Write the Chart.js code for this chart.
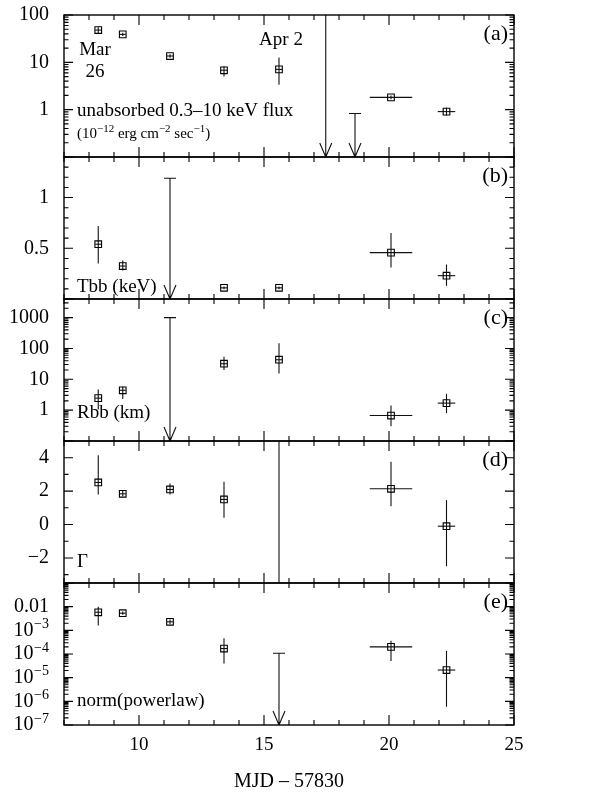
<!DOCTYPE html>
<html><head><meta charset="utf-8">
<script src="https://cdn.jsdelivr.net/npm/chart.js@4.4.1/dist/chart.umd.min.js"></script>
<style>html,body{margin:0;padding:0;background:#fff;}#wrap{position:relative;width:611px;height:801px;}</style>
</head><body><div id="wrap"><canvas id="c" width="611" height="801"></canvas></div>
<script>
// ---- data (MJD - 57830) ----
const obsT    = [8.37, 9.35, 11.24, 13.4, 15.6, 17.47, 18.64, 20.08, 22.3];
const obsTErr = [0.12, 0.12, 0.12, 0.12, 0.12, 0, 0, 0.85, 0.35];

const fluxVal = [48, 39, 13.6, 6.8, 7.1, null, null, 1.82, 0.91];
const fluxLo  = [41, 36, 12.5, 5.0, 3.35, null, null, 1.65, 0.75];
const fluxHi  = [55, 42, 14.8, 8.3, 12.6, null, null, 2.0, 1.1];
const fluxUL  = [null, null, null, null, null, 1000, 0.83, null, null];

const tbbVal = [0.54, 0.325, null, 0.11, 0.11, null, null, 0.457, 0.23];
const tbbLo  = [0.35, 0.28, null, 0.097, 0.097, null, null, 0.31, 0.13];
const tbbHi  = [0.72, 0.38, null, 0.123, 0.123, null, null, 0.65, 0.34];
const tbbUL  = [null, null, 1.19, null, null, null, null, null, null];

const rbbVal = [2.45, 4.4, null, 32, 43, null, null, 0.67, 1.69];
const rbbLo  = [1.05, 2.3, null, 20, 15.5, null, null, 0.30, 0.8];
const rbbHi  = [4.7, 5.7, null, 54, 147, null, null, 1.42, 3.4];
const rbbUL  = [null, null, 1000, null, null, null, null, null, null];

const gammaVal = [2.52, 1.84, 2.1, 1.5, null, null, null, 2.14, -0.1];
const gammaLo  = [1.8, 1.7, 1.8, 0.4, -100, null, null, 1.1, -2.5];
const gammaHi  = [4.14, 2.0, 2.45, 2.56, 100, null, null, 3.76, 1.46];

const normVal = [5.8e-3, 5.3e-3, 2.3e-3, 1.7e-4, null, null, null, 2.0e-4, 2.1e-5];
const normLo  = [1.6e-3, 4.5e-3, 1.8e-3, 4e-5, null, null, null, 5e-5, 5.9e-7];
const normHi  = [0.01, 6.2e-3, 2.9e-3, 4.6e-4, null, null, null, 3.6e-4, 1.35e-4];
const normUL  = [null, null, null, null, 1.07e-4, null, null, null, null];

// tick labels
const xTickLabels = [10, 15, 20, 25];
const fluxTicks  = [1, 10, 100];
const tbbTicks   = [0.5, 1];
const rbbTicks   = [1, 10, 100, 1000];
const gammaTicks = [-2, 0, 2, 4];
const normTicks  = [1e-7, 1e-6, 1e-5, 1e-4, 1e-3, 0.01];

const FONT = "'Liberation Serif','Times New Roman',serif";
Chart.defaults.font.family = FONT;
Chart.defaults.color = '#000';

const panels = [
  {id:'yA', type:'logarithmic', min:0.1, max:100, val:fluxVal, lo:fluxLo, hi:fluxHi, ul:fluxUL, ticks:fluxTicks, w:5, tag:'(a)'},
  {id:'yB', type:'linear', min:0, max:1.4, val:tbbVal, lo:tbbLo, hi:tbbHi, ul:tbbUL, ticks:tbbTicks, w:4, tag:'(b)', step:0.1, major:0.5},
  {id:'yC', type:'logarithmic', min:0.1, max:4000, val:rbbVal, lo:rbbLo, hi:rbbHi, ul:rbbUL, ticks:rbbTicks, w:3, tag:'(c)'},
  {id:'yD', type:'linear', min:-3.5, max:5, val:gammaVal, lo:gammaLo, hi:gammaHi, ul:null, ticks:gammaTicks, w:2, tag:'(d)', step:1, major:2},
  {id:'yE', type:'logarithmic', min:1e-7, max:0.1, val:normVal, lo:normLo, hi:normHi, ul:normUL, ticks:normTicks, w:1, tag:'(e)', custom:true}
];

const TICK_FS = 20, LABEL_PAD = 15;

function fmt(p, v) {
  if (p.custom) return '';
  if (v < 0) return '\u2212' + Math.abs(v);
  return String(v);
}

const scales = {
  x: {
    type:'linear', min:7, max:25, position:'bottom',
    grid:{display:false, drawTicks:false}, border:{display:false},
    ticks:{font:{size:19}, padding:9, maxRotation:0, autoSkip:false, color:'#000', callback:v=>String(v)},
    afterBuildTicks(s){ s.ticks = xTickLabels.map(v=>({value:v})); },
    afterFit(s){ s.height = 76; },
    title:{display:true, text:'MJD \u2013 57830', font:{size:20}, color:'#000', padding:{top:0,bottom:7}}
  }
};
panels.forEach(p => {
  scales[p.id] = {
    type:p.type, min:p.min, max:p.max, position:'left', stack:'panels', stackWeight:1, weight:p.w, offset:false,
    grid:{display:false, drawTicks:false}, border:{display:false},
    ticks:{font:{size:TICK_FS}, padding:LABEL_PAD, autoSkip:false, color:'#000', callback:(v)=>fmt(p, v)},
    afterBuildTicks(s){ s.ticks = p.ticks.map(v=>({value:v})); },
    afterFit(s){ s.width = 64; s.paddingTop = 0; s.paddingBottom = 0; }
  };
});

function pts(vals){ const out=[]; obsT.forEach((t,i)=>{ if(vals[i]!=null) out.push({x:t,y:vals[i]}); }); return out; }

const datasets = panels.map(p => ({
  type:'scatter', data:pts(p.val), yAxisID:p.id, xAxisID:'x',
  pointStyle:'rect', pointRadius:4.7, pointHoverRadius:4.7,
  borderColor:'#000', backgroundColor:'rgba(0,0,0,0)', pointBorderWidth:1.1, showLine:false
}));

function supText(ctx, parts, x, y, big, small, rise) {
  let cx = x;
  parts.forEach(([t, sup]) => {
    ctx.font = (sup ? small : big) + 'px ' + FONT;
    ctx.fillText(t, cx, sup ? y - rise : y);
    cx += ctx.measureText(t).width;
  });
}

const drawPlugin = {
  id:'panelsDraw',
  beforeDatasetsDraw(chart){
    const ctx = chart.ctx, xs = chart.scales.x, ca = chart.chartArea;
    panels.forEach(p => {
      const ys = chart.scales[p.id];
      ctx.save();
      ctx.beginPath(); ctx.rect(ca.left, ys.top, ca.right-ca.left, ys.bottom-ys.top); ctx.clip();
      ctx.strokeStyle = '#111'; ctx.lineWidth = 1.1; ctx.lineCap = 'butt';
      obsT.forEach((t,i) => {
        const px = xs.getPixelForValue(t);
        if (p.lo[i] != null) {
          ctx.beginPath();
          ctx.moveTo(px, ys.getPixelForValue(p.lo[i]));
          ctx.lineTo(px, ys.getPixelForValue(p.hi[i]));
          ctx.stroke();
        }
        if (p.val[i] != null && obsTErr[i] > 0) {
          const py = ys.getPixelForValue(p.val[i]);
          ctx.beginPath();
          ctx.moveTo(xs.getPixelForValue(t - obsTErr[i]), py);
          ctx.lineTo(xs.getPixelForValue(t + obsTErr[i]), py);
          ctx.stroke();
        }
        if (p.ul && p.ul[i] != null) {
          const cy = ys.getPixelForValue(p.ul[i]);
          const by = ys.bottom;
          ctx.beginPath();
          ctx.moveTo(px, cy); ctx.lineTo(px, by);
          ctx.moveTo(px - 6, cy); ctx.lineTo(px + 6, cy);
          ctx.moveTo(px - 6, by - 14); ctx.lineTo(px, by); ctx.lineTo(px + 6, by - 14);
          ctx.stroke();
        }
      });
      ctx.restore();
    });
  },
  afterDraw(chart){
    const ctx = chart.ctx, xs = chart.scales.x, ca = chart.chartArea;
    ctx.save();
    ctx.strokeStyle = '#000'; ctx.fillStyle = '#000';
    panels.forEach(p => {
      const ys = chart.scales[p.id];
      ctx.lineWidth = 1.4;
      ctx.strokeRect(ca.left, ys.top, ca.right - ca.left, ys.bottom - ys.top);
      ctx.lineWidth = 1.1;
      ctx.beginPath();
      for (let v = Math.ceil(xs.min); v <= xs.max; v++) {
        const px = xs.getPixelForValue(v);
        const len = (v % 5 === 0) ? 10 : 5;
        ctx.moveTo(px, ys.top); ctx.lineTo(px, ys.top + len);
        ctx.moveTo(px, ys.bottom); ctx.lineTo(px, ys.bottom - len);
      }
      const yt = [];
      if (p.type === 'linear') {
        for (let k = Math.ceil(p.min / p.step - 1e-9); k * p.step <= p.max + 1e-9; k++) {
          const v = k * p.step;
          const r = v / p.major;
          yt.push([v, Math.abs(r - Math.round(r)) < 1e-6]);
        }
      } else {
        for (let d = Math.floor(Math.log10(p.min)); d <= Math.ceil(Math.log10(p.max)); d++) {
          for (let m = 1; m <= 9; m++) {
            const v = m * Math.pow(10, d);
            if (v >= p.min * 0.999 && v <= p.max * 1.001) yt.push([v, m === 1]);
          }
        }
      }
      yt.forEach(([v, major]) => {
        const py = ys.getPixelForValue(v);
        const len = major ? 9 : 4.5;
        ctx.moveTo(ca.left, py); ctx.lineTo(ca.left + len, py);
        ctx.moveTo(ca.right, py); ctx.lineTo(ca.right - len, py);
      });
      ctx.stroke();
      ctx.font = '22px ' + FONT; ctx.textAlign = 'right'; ctx.textBaseline = 'middle';
      ctx.fillText(p.tag, ca.right - 6, ys.top + 19);
      if (p.custom) {
        ctx.textBaseline = 'middle';
        p.ticks.forEach(v => {
          const py = ys.getPixelForValue(v);
          const rx = ca.left - LABEL_PAD;
          if (v >= 0.01) {
            ctx.font = TICK_FS + 'px ' + FONT; ctx.textAlign = 'right';
            ctx.fillText(String(v), rx, py);
          } else {
            const e = Math.round(Math.log10(v));
            const sup = '\u2212' + Math.abs(e);
            ctx.font = '14px ' + FONT;
            const sw = ctx.measureText(sup).width;
            ctx.textAlign = 'right';
            ctx.fillText(sup, rx, py - 6);
            ctx.font = TICK_FS + 'px ' + FONT;
            ctx.fillText('10', rx - sw - 0.5, py);
          }
        });
      }
    });
    const yA = chart.scales.yA, yB = chart.scales.yB, yC = chart.scales.yC, yD = chart.scales.yD, yE = chart.scales.yE;
    const lx = ca.left + 13;
    ctx.textBaseline = 'middle';
    ctx.font = '19px ' + FONT; ctx.textAlign = 'center';
    ctx.fillText('Mar', 95, yA.top + 35);
    ctx.fillText('26', 95, yA.top + 57);
    ctx.fillText('Apr 2', 281, yA.top + 25);
    ctx.textAlign = 'left';
    ctx.fillText('unabsorbed 0.3\u201310 keV flux', lx, yA.bottom - 46);
    supText(ctx, [['(10',0],['\u221212',1],[' erg cm',0],['\u22122',1],[' sec',0],['\u22121',1],[')',0]], lx, yA.bottom - 23, 15, 11, 5);
    ctx.font = '19px ' + FONT;
    ctx.fillText('Tbb (keV)', lx, yB.bottom - 12);
    ctx.fillText('Rbb (km)', lx, yC.bottom - 28);
    ctx.fillText('\u0393', lx, yD.bottom - 21);
    ctx.fillText('norm(powerlaw)', lx, yE.bottom - 24);
    ctx.restore();
  }
};

new Chart(document.getElementById('c'), {
  type:'scatter',
  data:{datasets},
  options:{
    responsive:false, animation:false, events:[],
    layout:{padding:{top:15, right:97, left:0, bottom:0}},
    plugins:{legend:{display:false}, tooltip:{enabled:false}, title:{display:false}},
    scales
  },
  plugins:[drawPlugin]
});
</script></body></html>
